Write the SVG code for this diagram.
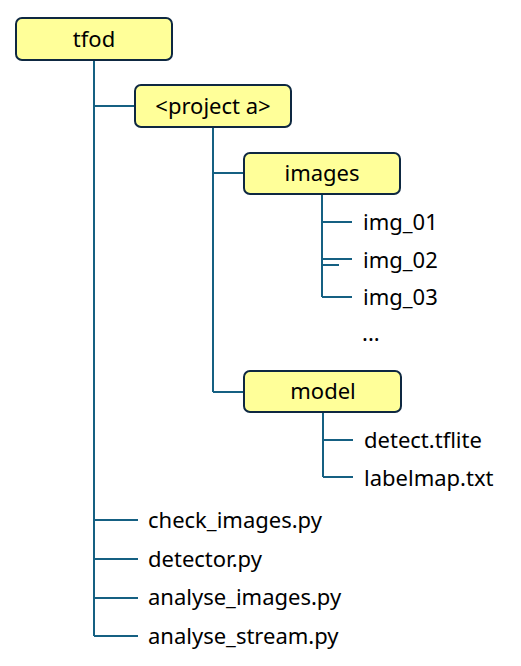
<svg xmlns="http://www.w3.org/2000/svg" width="521" height="666" viewBox="0 0 521 666">
<style>
.box{fill:#FFFF99;stroke:#0E2841;stroke-width:2}
.ln{stroke:#156082;stroke-width:2;fill:none}
.t{font-family:"Noto Sans","Liberation Sans",sans-serif;font-size:22px;fill:#000}
.c{text-anchor:middle}
</style>
<rect width="521" height="666" fill="#fff"/>
<g id="connectors">
<path class="ln" d="M94,60V636M94,106H135M94,520H138M94,559H138M94,598H138M94,636H138"/>
<path class="ln" d="M213,127V392M213,173H244M213,392H244"/>
<path class="ln" d="M322,194V297M322,222H352M322,259H352M322,265H339M322,297H352"/>
<path class="ln" d="M323,412V477M323,440H353M323,477H353"/>
</g>
<g id="tfod"><rect class="box" x="16" y="18" width="156" height="42" rx="6"/><text class="t c" x="94" y="47">tfod</text></g>
<g id="project_a"><rect class="box" x="135" y="85" width="156" height="42" rx="6"/><text class="t c" x="213" y="114">&lt;project a&gt;</text></g>
<g id="images"><rect class="box" x="244" y="153" width="156" height="41" rx="6"/><text class="t c" x="322" y="181">images</text></g>
<g id="model"><rect class="box" x="244" y="371" width="157" height="41" rx="6"/><text class="t c" x="323" y="399">model</text></g>
<g id="img_01"><text class="t" x="363" y="230">img_01</text></g>
<g id="img_02"><text class="t" x="363" y="268">img_02</text></g>
<g id="img_03"><text class="t" x="363" y="305">img_03</text></g>
<g id="more"><text class="t" x="362" y="341">...</text></g>
<g id="detect"><text class="t" x="364" y="448">detect.tflite</text></g>
<g id="labelmap"><text class="t" x="364" y="486">labelmap.txt</text></g>
<g id="check_images"><text class="t" x="148" y="528">check_images.py</text></g>
<g id="detector"><text class="t" x="148" y="567">detector.py</text></g>
<g id="analyse_images"><text class="t" x="148" y="605">analyse_images.py</text></g>
<g id="analyse_stream"><text class="t" x="148" y="644">analyse_stream.py</text></g>
</svg>
